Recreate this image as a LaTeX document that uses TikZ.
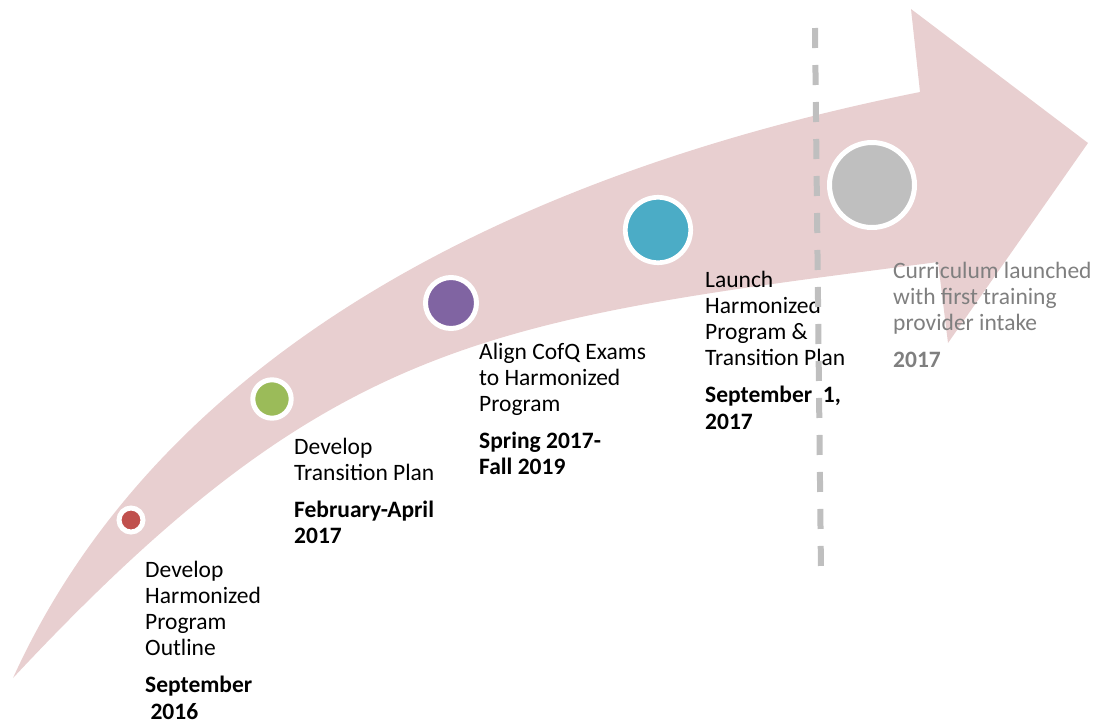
\documentclass[tikz,border=0pt]{standalone}
\usepackage{fontspec}
\setmainfont{Carlito}
\definecolor{arrowpink}{RGB}{232,207,208}
\definecolor{cred}{HTML}{C0504D}
\definecolor{cgreen}{HTML}{9BBB59}
\definecolor{cpurple}{HTML}{8064A2}
\definecolor{cteal}{HTML}{4BACC6}
\definecolor{cgray}{HTML}{BFBFBF}
\definecolor{tgray}{HTML}{7F7F7F}
\newcommand{\lns}[1]{\vtop{\baselineskip=26.2pt\lineskiplimit=-50pt\relax #1}}
\newcommand{\dategap}{\vskip 11pt}
\begin{document}
\begin{tikzpicture}[x=1pt,y=-1pt,
  dot/.style={circle, draw=white, line width=5pt, inner sep=0pt},
  lbl/.style={anchor=base west, inner sep=0pt, font=\fontsize{23.5}{26.2}\selectfont},
  divider/.style={draw=cgray, line width=6pt, dash pattern=on 20pt off 17pt}]
\useasboundingbox (0,0) rectangle (1098,721);
% curved arrow
\fill[arrowpink] (13,678) .. controls (163,348) and (520,172) .. (920,92)
  -- (911,9) -- (1088,143) -- (948,343) -- (938,262)
  .. controls (488,320.5) and (333,335.6) .. (13,678) -- cycle;
% milestones
\node[dot, fill=cred, minimum size=24pt] (m1) at (131,520) {};
\node[dot, fill=cgreen, minimum size=38.4pt] (m2) at (272,399) {};
\node[dot, fill=cpurple, minimum size=51pt] (m3) at (451,303) {};
\node[dot, fill=cteal, minimum size=65.4pt, line width=4.7pt] (m4) at (658,230) {};
\node[dot, fill=cgray, minimum size=85pt] (m5) at (872,185) {};
% labels
\node[lbl] (t1) at (145,577) {\lns{\hbox{Develop}\hbox{Harmonized}\hbox{Program}\hbox{Outline}\dategap\hbox{\bfseries September}\hbox{\bfseries\ 2016}}};
\node[lbl] (t2) at (294,454) {\lns{\hbox{Develop}\hbox{Transition Plan}\dategap\hbox{\bfseries February-April}\hbox{\bfseries 2017}}};
\node[lbl] (t3) at (479,359) {\lns{\hbox{Align CofQ Exams}\hbox{to Harmonized}\hbox{Program}\dategap\hbox{\bfseries Spring 2017-}\hbox{\bfseries Fall 2019}}};
\node[lbl] (t4) at (705,287) {\lns{\hbox{Launch}\hbox{Harmonized}\hbox{Program \&}\hbox{Transition Plan}\dategap\hbox{\bfseries September\ \ 1,}\hbox{\bfseries 2017}}};
\node[lbl, text=tgray] (t5) at (893,278) {\lns{\hbox{Curriculum launched}\hbox{with first training}\hbox{provider intake}\dategap\hbox{\bfseries 2017}}};
% divider
\coordinate (dtop) at (815,28);
\coordinate (dbot) at (821,572);
\draw[divider] (dtop) -- (dbot);
\end{tikzpicture}
\end{document}
